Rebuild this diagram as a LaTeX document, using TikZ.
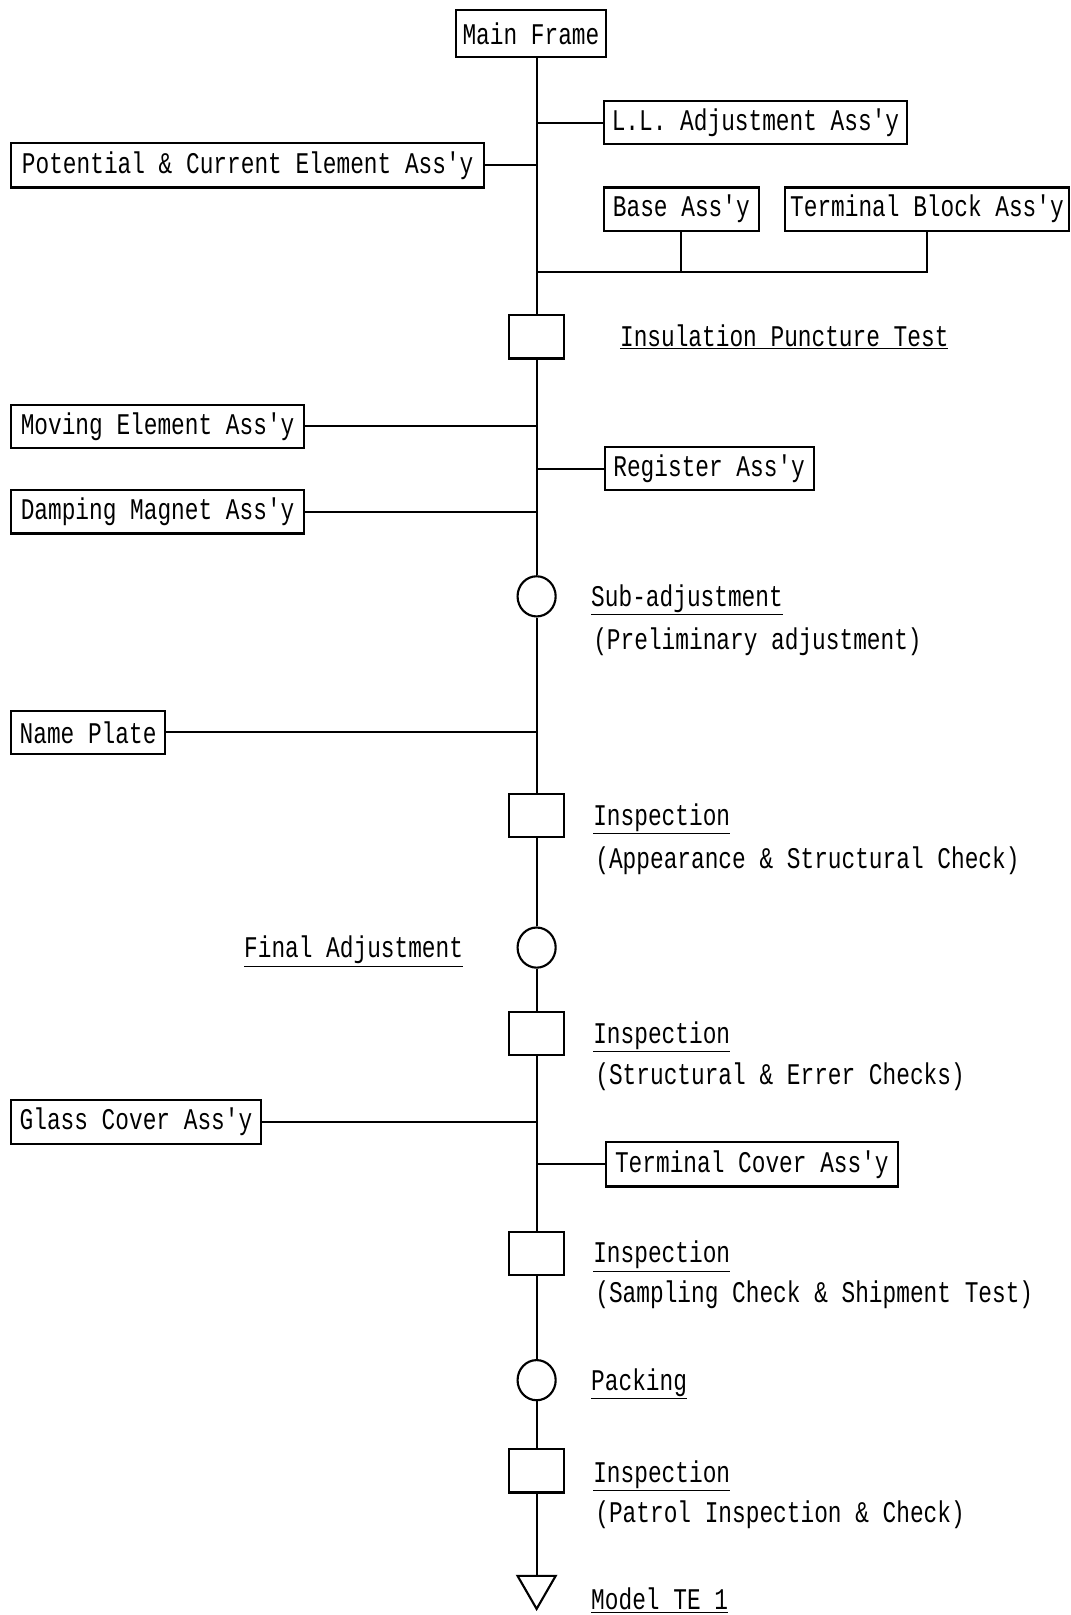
\documentclass[tikz,border=0pt]{standalone}
\usepackage{fontspec}
\newfontfamily\dotfont[FakeStretch=0.76]{Liberation Mono}
\usetikzlibrary{shapes.geometric}
\def\pxu{0.7724pt}
\begin{document}
\begin{tikzpicture}[x=0.7724pt,y=-0.7724pt,
  font=\dotfont\fontsize{22.5pt}{26pt}\selectfont,
  line width=1.6pt,
  box/.style={draw, inner sep=0pt, minimum height=42*\pxu},
  sq/.style={draw, inner sep=0pt, minimum width=53*\pxu, minimum height=42*\pxu},
  circ/.style={draw, ellipse, inner sep=0pt, minimum width=37*\pxu, minimum height=39*\pxu},
  lbl/.style={anchor=base west, inner sep=0pt}]
\fill[white] (0,0) rectangle (1039,1568);
\useasboundingbox (0,0) rectangle (1039,1568);

% parts
\node[box, minimum width=145*\pxu, minimum height=45*\pxu] (mf) at (515.5,32.5) {Main Frame};
\node[box, minimum width=295*\pxu] (ll) at (733.5,119) {L.L. Adjustment Ass'y};
\node[box, minimum width=459*\pxu, minimum height=43*\pxu] (pc) at (240.5,160.5) {Potential \& Current Element Ass'y};
\node[box, minimum width=151*\pxu] (base) at (661.5,203) {Base Ass'y};
\node[box, minimum width=276*\pxu] (tb) at (900,203) {Terminal Block Ass'y};
\node[box, minimum width=284*\pxu] (mv) at (153,414) {Moving Element Ass'y};
\node[box, minimum width=203*\pxu] (rg) at (688.5,455) {Register Ass'y};
\node[box, minimum width=284*\pxu] (dm) at (153,497) {Damping Magnet Ass'y};
\node[box, minimum width=149*\pxu] (np) at (85.5,711) {Name Plate};
\node[box, minimum width=242*\pxu, minimum height=43*\pxu] (gc) at (132,1089.5) {Glass Cover Ass'y};
\node[box, minimum width=284*\pxu, minimum height=43*\pxu] (tc) at (730,1130.5) {Terminal Cover Ass'y};

% process symbols
\node[sq] (s1) at (521,327) {};
\node[circ] (c1) at (521,579) {};
\node[sq] (s2) at (521,792) {};
\node[circ] (c2) at (521,920) {};
\node[sq] (s3) at (521,1003.5) {};
\node[sq] (s4) at (521,1217) {};
\node[circ] (c3) at (521,1340) {};
\node[sq] (s5) at (521,1428) {};
\node[draw, regular polygon, regular polygon sides=3, shape border rotate=180,
      inner sep=0pt, minimum size=42.7*\pxu] (tri) at (521,1540.7) {};
\coordinate (jn) at (521,264);

% spine
\draw (mf.south -| s1) -- (s1.north);
\draw (s1.south) -- (c1.north);
\draw (c1.south) -- (s2.north);
\draw (s2.south) -- (c2.north);
\draw (c2.south) -- (s3.north);
\draw (s3.south) -- (s4.north);
\draw (s4.south) -- (c3.north);
\draw (c3.south) -- (s5.north);
\draw (s5.south) -- (tri.north);

% branches
\draw (ll.west) -- (ll.west -| s1);
\draw (pc.east) -- (pc.east -| s1);
\draw (base.south) -- (base.south |- jn);
\draw (tb.south) -- (tb.south |- jn) -- (jn);
\draw (mv.east) -- (mv.east -| s1);
\draw (rg.west) -- (rg.west -| s1);
\draw (dm.east) -- (dm.east -| s1);
\draw (np.east) -- (np.east -| s1);
\draw (gc.east) -- (gc.east -| s1);
\draw (tc.west) -- (tc.west -| s1);

% labels
\node[lbl] (l1) at (601,336) {\underline{Insulation Puncture Test}};
\node[lbl] (l2) at (573,589) {\underline{Sub-adjustment}};
\node[lbl] (l2b) at (575,631) {(Preliminary adjustment)};
\node[lbl] (l3) at (575,801) {\underline{Inspection}};
\node[lbl] (l3b) at (577,843) {(Appearance \& Structural Check)};
\node[lbl] (l4) at (236,930) {\underline{Final Adjustment}};
\node[lbl] (l5) at (575,1013) {\underline{Inspection}};
\node[lbl] (l5b) at (577,1053) {(Structural \& Errer Checks)};
\node[lbl] (l6) at (575,1226) {\underline{Inspection}};
\node[lbl] (l6b) at (577,1265) {(Sampling Check \& Shipment Test)};
\node[lbl] (l7) at (573,1350) {\underline{Packing}};
\node[lbl] (l8) at (575,1439) {\underline{Inspection}};
\node[lbl] (l8b) at (577,1478) {(Patrol Inspection \& Check)};
\node[lbl] (l9) at (573,1563) {\underline{Model TE 1}};
\end{tikzpicture}
\end{document}
